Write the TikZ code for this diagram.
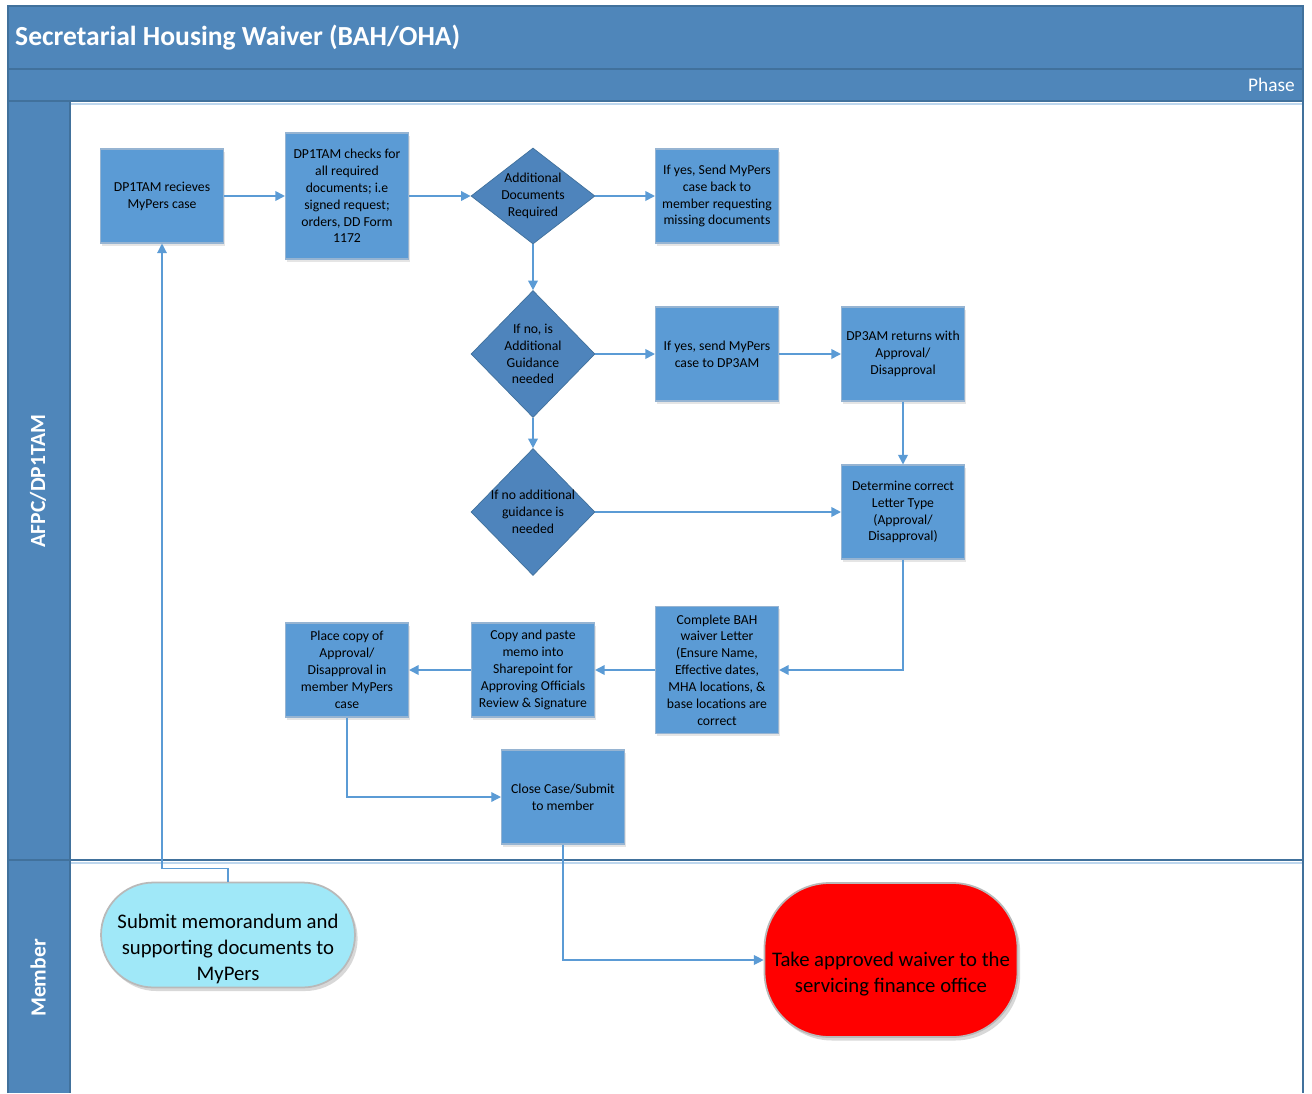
\documentclass[tikz,border=0pt]{standalone}
\usepackage{fontspec}
\setmainfont{Carlito}
\usetikzlibrary{shapes.geometric,arrows.meta,shadows}

\definecolor{hdrblue}{RGB}{79,134,186}
\definecolor{hdrline}{RGB}{65,113,156}
\definecolor{boxblue}{RGB}{91,155,213}
\definecolor{boxline}{RGB}{150,180,210}
\definecolor{dmdblue}{RGB}{78,132,188}
\definecolor{flowblue}{RGB}{91,155,213}
\definecolor{paleline}{RGB}{190,215,238}
\definecolor{termcyan}{RGB}{160,232,248}
\definecolor{termline}{RGB}{185,185,185}

\tikzset{
  procbox/.style={rectangle, fill=boxblue, draw=boxline, line width=.6pt,
    minimum width=2.46cm, minimum height=1.88cm, inner sep=1pt, align=center,
    font=\fontsize{7.8}{9.6}\selectfont,
    drop shadow={shadow xshift=1pt, shadow yshift=-1.5pt, fill=black!20}},
  decision/.style={diamond, fill=dmdblue, draw=hdrline, line width=.4pt,
    minimum width=2.48cm, inner sep=0pt},
  dtext/.style={align=center, font=\fontsize{7.8}{9.6}\selectfont},
  terminal/.style={rectangle, draw=termline, line width=1pt,
    drop shadow={shadow xshift=1.5pt, shadow yshift=-2pt, fill=black!30}},
  ttext/.style={align=center, yshift=-8pt, font=\fontsize{11.8}{14.7}\selectfont},
  flow/.style={draw=flowblue, line width=1pt, -{Triangle[length=5.5pt,width=5.5pt]}},
  thinflow/.style={flow, line width=.7pt},
  lanelbl/.style={text=white, rotate=90, font=\fontsize{12.3}{14}\selectfont\bfseries}
}

\begin{document}
\begin{tikzpicture}[x=0.02cm, y=-0.02cm]

    \def\header{(8,6) rectangle (1303,101)}
    \def\lanecol{(8,101) rectangle (70,1093)}

    \useasboundingbox (0,0) rectangle (1312,1093);

    %pool and lanes:
    \fill[hdrblue] \header;
    \fill[hdrblue] \lanecol;
    \draw[paleline, line width=1.2pt] (70,104) -- (1303,104);
    \draw[paleline, line width=1.2pt] (70,863) -- (1303,863);
    \draw[hdrline, line width=.8pt] (8,69) -- (1303,69);
    \draw[hdrline, line width=.8pt] (8,101) -- (1303,101);
    \draw[hdrline, line width=.8pt] (70,101) -- (70,1093);
    \draw[hdrline, line width=.8pt] (8,860) -- (1303,860);
    \draw[hdrline, line width=.8pt] (8,1093) -- (8,6) -- (1303,6) -- (1303,1093);

    \node[anchor=west, text=white, font=\fontsize{15.7}{19}\selectfont\bfseries] (title) at (9,38) {Secretarial Housing Waiver (BAH/OHA)};
    \node[anchor=east, text=white, font=\fontsize{11}{13}\selectfont] (phase) at (1301,85) {Phase};
    \node[lanelbl] (laneafpc) at (38,481) {AFPC/DP1TAM};
    \node[lanelbl] (lanemember) at (38,978) {Member};

    %process steps:
    \node[procbox] (recv) at (162,196) {DP1TAM recieves\\MyPers case};
    \node[procbox, minimum height=2.52cm] (check) at (347,196) {DP1TAM checks for\\all required\\documents; i.e\\signed request;\\orders, DD Form\\1172};
    \node[decision, minimum height=1.92cm, label={[dtext]center:{Additional\\Documents\\Required}}] (adddocs) at (533,196) {};
    \node[procbox] (sendback) at (717,196) {If yes, Send MyPers\\case back to\\member requesting\\missing documents};
    \node[decision, minimum height=2.54cm, label={[dtext]center:{If no, is\\Additional\\Guidance\\needed}}] (guidance) at (533,354) {};
    \node[procbox] (sendtodp) at (717,354) {If yes, send MyPers\\case to DP3AM};
    \node[procbox] (dpreturn) at (903,354) {DP3AM returns with\\Approval/\\Disapproval};
    \node[decision, minimum height=2.54cm, label={[dtext]center:{If no additional\\guidance is\\needed}}] (noguide) at (533,512) {};
    \node[procbox] (lettertype) at (903,512) {Determine correct\\Letter Type\\(Approval/\\Disapproval)};
    \node[procbox, minimum height=2.54cm] (complete) at (717,670) {Complete BAH\\waiver Letter\\(Ensure Name,\\Effective dates,\\MHA locations, \&\\base locations are\\correct};
    \node[procbox] (copymemo) at (533,670) {Copy and paste\\memo into\\Sharepoint for\\Approving Officials\\Review \& Signature};
    \node[procbox] (placecopy) at (347,670) {Place copy of\\Approval/\\Disapproval in\\member MyPers\\case};
    \node[procbox] (closecase) at (563,797) {Close Case/Submit\\to member};

    %member lane:
    \node[terminal, fill=termcyan, minimum width=5.08cm, minimum height=2.1cm, rounded corners=1.05cm,
      label={[ttext]center:{Submit memorandum and\\supporting documents to\\MyPers}}] (submit) at (228,935) {};
    \node[terminal, fill=red, minimum width=5.06cm, minimum height=3.08cm, rounded corners=1.3cm,
      label={[ttext]center:{Take approved waiver to the\\servicing finance office}}] (finance) at (891,960) {};

    %connectors:
    \draw[flow] (recv) -- (check);
    \draw[flow] (check) -- (adddocs);
    \draw[flow] (adddocs) -- (sendback);
    \draw[flow] (adddocs) -- (guidance);
    \draw[flow] (guidance) -- (sendtodp);
    \draw[flow] (sendtodp) -- (dpreturn);
    \draw[flow] (guidance) -- (noguide);
    \draw[flow] (noguide) -- (lettertype);
    \draw[flow] (dpreturn) -- (lettertype);
    \draw[flow] (lettertype.south) |- (complete.east);
    \draw[flow] (complete) -- (copymemo);
    \draw[flow] (copymemo) -- (placecopy);
    \draw[thinflow] (placecopy.south) |- (closecase.west);
    \draw[thinflow] (closecase.south) |- (finance.west);
    \draw[thinflow] (submit.north) -- ++(0,-13) -| (recv.south);

\end{tikzpicture}
\end{document}
